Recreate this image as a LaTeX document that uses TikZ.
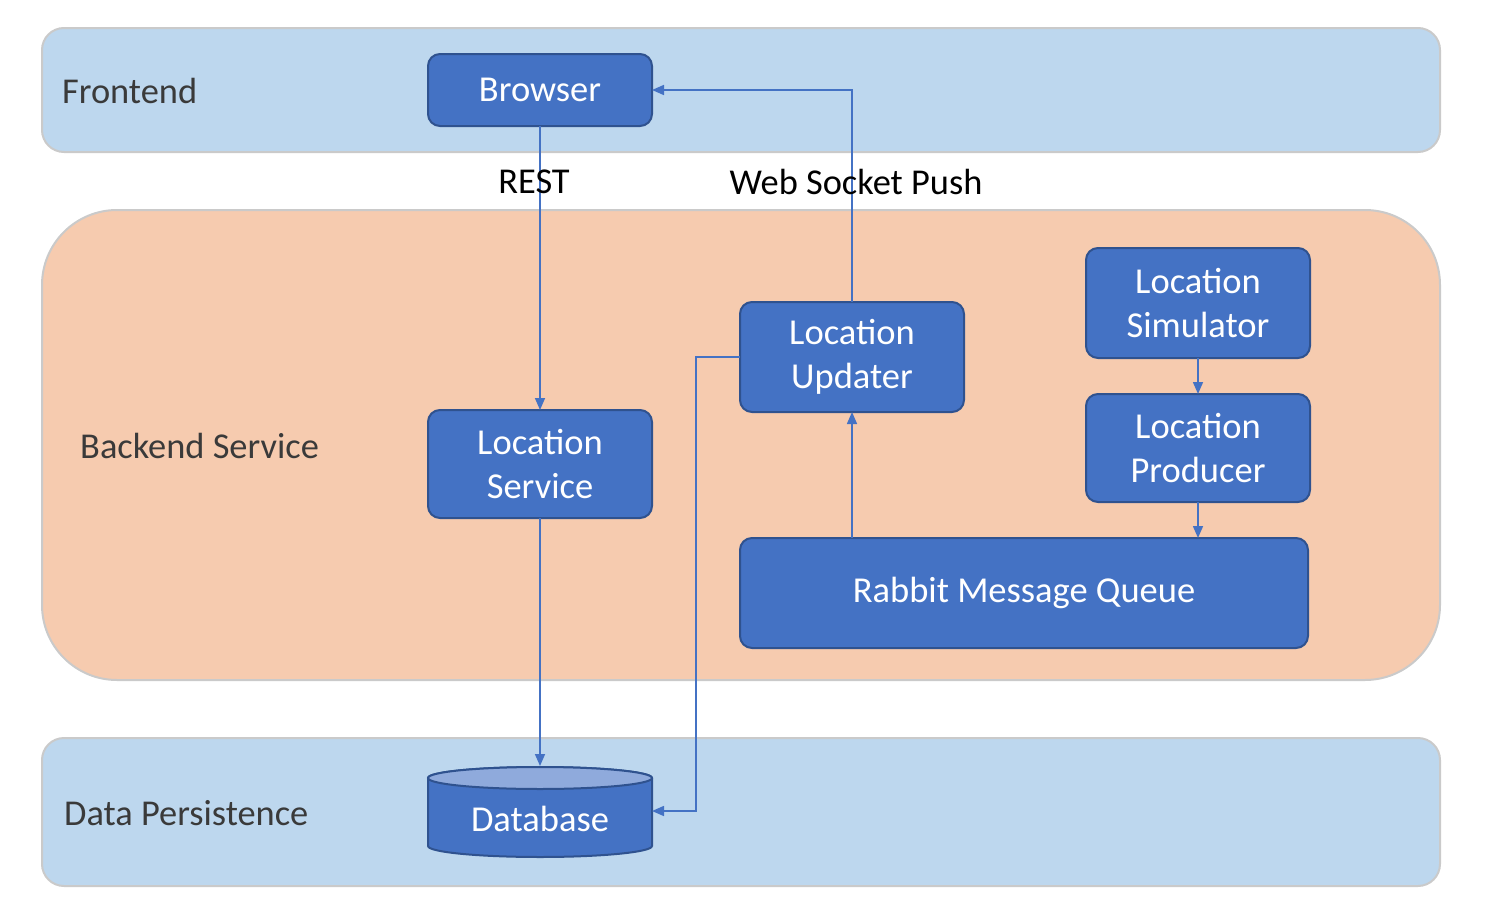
\documentclass[tikz,border=0pt]{standalone}
\usepackage{fontspec}
\setmainfont{Carlito}
\usetikzlibrary{arrows.meta}
\definecolor{bandblue}{HTML}{BDD7EE}
\definecolor{bandorange}{HTML}{F6CBAF}
\definecolor{bandedge}{HTML}{CACACA}
\definecolor{boxfill}{HTML}{4472C4}
\definecolor{boxedge}{HTML}{2F528F}
\definecolor{dbtopfill}{HTML}{8FAADC}
\definecolor{labelgray}{HTML}{3A3A3A}
\begin{document}
\begin{tikzpicture}[x=1pt,y=-1pt,
  band/.style={draw=bandedge, line width=2pt, inner sep=0pt, outer sep=0pt},
  svcbox/.style={draw=boxedge, fill=boxfill, line width=2pt, rounded corners=12pt,
    text=white, align=center, inner sep=0pt, outer sep=0pt, minimum width=224pt,
    font=\fontsize{36.5}{44}\selectfont},
  bandlabel/.style={anchor=west, text=labelgray, inner sep=0pt, font=\fontsize{36.4}{42}\selectfont},
  edgelabel/.style={text=black, inner sep=0pt, font=\fontsize{36.4}{42}\selectfont},
  conn/.style={draw=boxfill, line width=1.6pt, -{Triangle[length=12pt,width=10pt]}}]
\useasboundingbox (0,0) rectangle (1492,918);
% bands
\node[band, fill=bandblue, rounded corners=22pt, minimum width=1398pt, minimum height=124pt] (front) at (741,90) {};
\node[band, fill=bandorange, rounded corners=75pt, minimum width=1398pt, minimum height=470pt] (back) at (741,445) {};
\node[band, fill=bandblue, rounded corners=22pt, minimum width=1398pt, minimum height=148pt] (data) at (741,812) {};
\node[bandlabel] (lfront) at (62,91) {Frontend};
\node[bandlabel] (lback) at (80,446) {Backend Service};
\node[bandlabel] (ldata) at (64,813) {Data Persistence};
% boxes
\node[svcbox, minimum height=72pt] (browser) at (540,90) {Browser};
\node[svcbox, minimum height=108pt] (ls) at (540,464) {Location\\Service};
\node[svcbox, minimum height=110pt] (lu) at (852,357) {Location\\Updater};
\node[svcbox, minimum height=110pt] (lsim) at (1198,303) {Location\\Simulator};
\node[svcbox, minimum height=108pt] (lp) at (1198,448) {Location\\Producer};
\node[svcbox, minimum height=110pt, minimum width=568pt] (rmq) at (1024,593) {Rabbit Message Queue};
% database cylinder
\path[draw=boxedge, fill=boxfill, line width=2pt]
  (428,778) -- (428,846) arc[start angle=180, end angle=360, x radius=112pt, y radius=11pt]
  -- (652,778) arc[start angle=0, end angle=180, x radius=112pt, y radius=11pt] -- cycle;
\path[draw=boxedge, fill=dbtopfill, line width=2pt] (540,778) ellipse[x radius=112pt, y radius=11pt];
\node[minimum width=224pt, minimum height=90pt, inner sep=0pt, outer sep=0pt] (db) at (540,811) {};
\node[text=white, inner sep=0pt, font=\fontsize{36.5}{44}\selectfont] (dbtext) at (540,819) {Database};
% connectors
\draw[conn] (browser.south) -- (ls.north);
\draw[conn] (lu.north) |- (browser.east);
\draw[conn] (ls.south) -- (db.north);
\draw[conn] (lu.west) -- ++(-44pt,0) |- (db.east);
\draw[conn] (lu.south |- rmq.north) -- (lu.south);
\draw[conn] (lsim.south) -- (lp.north);
\draw[conn] (lp.south) -- (lp.south |- rmq.north);
% edge labels
\node[edgelabel] (rest) at (534,182) {REST};
\node[edgelabel] (wsp) at (856,182) {Web Socket Push};
\end{tikzpicture}
\end{document}
